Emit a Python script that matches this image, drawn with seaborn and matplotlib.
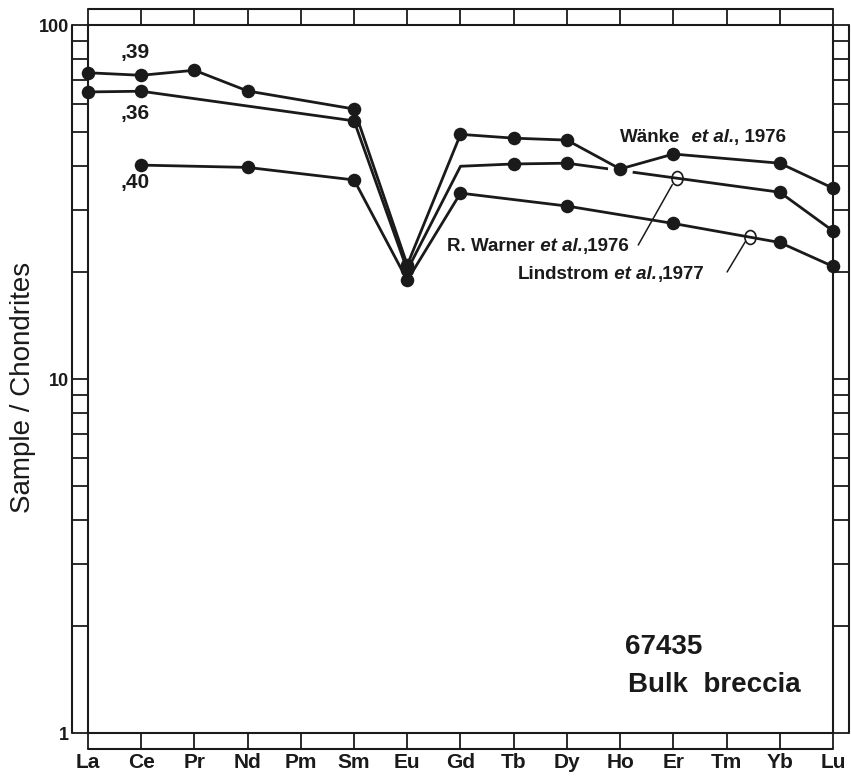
import numpy as np
import pandas as pd
import matplotlib
matplotlib.use("Agg")
import matplotlib.pyplot as plt
import seaborn as sns
from matplotlib.ticker import FixedLocator, FixedFormatter, LogLocator, NullFormatter
from matplotlib.markers import MarkerStyle
from matplotlib.transforms import Affine2D

# ---------------- data ----------------
elements = ["La", "Ce", "Pr", "Nd", "Pm", "Sm", "Eu", "Gd", "Tb", "Dy", "Ho", "Er", "Tm", "Yb", "Lu"]
nan = np.nan
wanke = [73.3, 72.1, 74.5, 65.1, nan, 57.9, 21.0, 49.1, 47.9, 47.3, 39.2, 43.2, nan, 40.7, 34.6]
warner = [64.7, 65.0, nan, nan, nan, 53.6, 20.3, 39.9, 40.5, 40.7, nan, nan, nan, 33.7, 26.2]
warner_marked = [True, True, False, False, False, True, True, False, True, True, False, False, False, True, True]
lindstrom = [nan, 40.2, nan, 39.6, nan, 36.5, 19.0, 33.5, nan, 30.8, nan, 27.5, nan, 24.3, 20.8]

split_labels = [",39", ",36", ",40"]
split_pos = [(0.62, 83.4), (0.62, 56.4), (0.62, 35.8)]

y_ticks = [1, 10, 100]
y_tick_labels = ["1", "10", "100"]

# pointer (leader) positions: text end -> ring on series line
warner_ring_x = 11.07
lindstrom_ring_x = 12.44
warner_leader = [(10.34, 23.9), (10.98, 35.4)]
lindstrom_leader = [(12.01, 20.06), (12.35, 24.4)]

# ---------------- style ----------------
sns.set_theme(style="white")
plt.rcParams["font.family"] = ["Liberation Sans", "DejaVu Sans"]

W, H = 851, 777
fig = plt.figure(figsize=(W / 100, H / 100), dpi=100)
L, R, T, B = 88, 833, 25, 733
ax = fig.add_axes([L / W, 1 - B / H, (R - L) / W, (B - T) / H])
ax.set_yscale("log")

idx = np.arange(len(elements))
df = pd.DataFrame({"idx": idx, "element": elements, "wanke": wanke,
                   "warner": warner, "lindstrom": lindstrom,
                   "warner_marked": warner_marked})

lw = 2.0
dot = 95

# middle series line (drawn beneath the Ho halo)
sns.lineplot(data=df.dropna(subset=["warner"]), x="idx", y="warner", color="k",
             lw=lw, ax=ax, zorder=2, clip_on=False)
# white halo around the Wänke Ho point, breaking the line behind it
ho = elements.index("Ho")
ax.plot([idx[ho]], [wanke[ho]], "o", ms=17, color="white", zorder=2.5, clip_on=False)

sns.lineplot(data=df.dropna(subset=["wanke"]), x="idx", y="wanke", color="k",
             lw=lw, ax=ax, zorder=3, clip_on=False)
sns.lineplot(data=df.dropna(subset=["lindstrom"]), x="idx", y="lindstrom", color="k",
             lw=lw, ax=ax, zorder=3, clip_on=False)

sns.scatterplot(data=df.dropna(subset=["wanke"]), x="idx", y="wanke", color="k",
                s=dot, linewidth=0, ax=ax, zorder=4, clip_on=False, legend=False)
sns.scatterplot(data=df[df["warner_marked"]].dropna(subset=["warner"]), x="idx", y="warner",
                color="k", s=dot, linewidth=0, ax=ax, zorder=4, clip_on=False, legend=False)
sns.scatterplot(data=df.dropna(subset=["lindstrom"]), x="idx", y="lindstrom", color="k",
                s=dot, linewidth=0, ax=ax, zorder=4, clip_on=False, legend=False)

ax.set_xlim(0, len(elements) - 1)
ax.set_ylim(1, 100)
ax.set_xlabel("")
ax.set_ylabel("")

# ---------------- frame with tick strips ----------------
tl_px = 16
tl = tl_px * 0.72
for sp in ax.spines.values():
    sp.set_visible(True)
    sp.set_color("k")
    sp.set_linewidth(1.5)

ax.set_xticks(idx)
ax.set_xticklabels(elements)
ax.tick_params(axis="x", which="both", direction="out", length=tl, width=1.3, color="k",
               bottom=True, top=True, labelbottom=True, labeltop=False,
               labelsize=15, pad=3, labelcolor="k")
for lab in ax.get_xticklabels():
    lab.set_fontweight("bold")

ax.yaxis.set_major_locator(FixedLocator(y_ticks))
ax.yaxis.set_major_formatter(FixedFormatter(y_tick_labels))
ax.yaxis.set_minor_locator(LogLocator(base=10, subs=np.arange(2, 10)))
ax.yaxis.set_minor_formatter(NullFormatter())
ax.tick_params(axis="y", which="both", direction="out", length=tl, width=1.3, color="k",
               left=True, right=True, labelleft=True, labelright=False,
               labelsize=13, pad=2, labelcolor="k")
for lab in ax.get_yticklabels():
    lab.set_fontweight("bold")

ox = tl_px / (R - L)
oy = tl_px / (B - T)
frame_kw = dict(transform=ax.transAxes, color="k", lw=1.5, clip_on=False, zorder=1)
ax.plot([-ox, -ox], [0, 1], **frame_kw)
ax.plot([1 + ox, 1 + ox], [0, 1], **frame_kw)
ax.plot([0, 1], [1 + oy, 1 + oy], **frame_kw)
ax.plot([0, 1], [-oy, -oy], **frame_kw)

# ---------------- texts ----------------
fig.text(23 / W, 1 - 387 / H, "Sample / Chondrites", rotation=90, ha="center",
         va="center", fontsize=20, color="k")

for lab, (x, y) in zip(split_labels, split_pos):
    ax.text(x, y, lab, fontsize=15, fontweight="bold", ha="left", va="center", color="k")


def chain(parts, x, y, size):
    prev = None
    for txt, style in parts:
        if prev is None:
            prev = ax.text(x, y, txt, fontsize=size, fontweight="bold", style=style,
                           ha="left", va="center", color="k")
        else:
            prev = ax.annotate(txt, xy=(1, 0), xycoords=prev, ha="left", va="bottom",
                               fontsize=size, fontweight="bold", style=style, color="k")


chain([("Wänke", "normal"), ("  et al.", "italic"), (", 1976", "normal")], 10.0, 48.0, 13.5)
chain([("R. Warner", "normal"), (" et al.", "italic"), (",1976", "normal")], 6.75, 23.75, 13.5)
chain([("Lindstrom", "normal"), (" et al.", "italic"), (",1977", "normal")], 8.08, 19.67, 13.5)

ax.text(10.09, 1.75, "67435", fontsize=20, fontweight="bold", ha="left", va="center", color="k")
ax.text(10.15, 1.367, "Bulk  breccia", fontsize=20, fontweight="bold", ha="left", va="center", color="k")


def on_line(series, xq):
    s = pd.Series(series, index=idx).dropna()
    return 10 ** np.interp(xq, s.index.values, np.log10(s.values))


ring = MarkerStyle("o", fillstyle="none", transform=Affine2D().scale(0.8, 1.0))
for rx, series, leader in [(warner_ring_x, warner, warner_leader),
                           (lindstrom_ring_x, lindstrom, lindstrom_leader)]:
    ax.plot([rx], [on_line(series, rx)], marker=ring, ms=10, mec="k", mew=1.2,
            ls="none", zorder=5)
    ax.plot([leader[0][0], leader[1][0]], [leader[0][1], leader[1][1]], color="k",
            lw=1.1, zorder=5)

fig.savefig("out.png", dpi=100, facecolor="white")
